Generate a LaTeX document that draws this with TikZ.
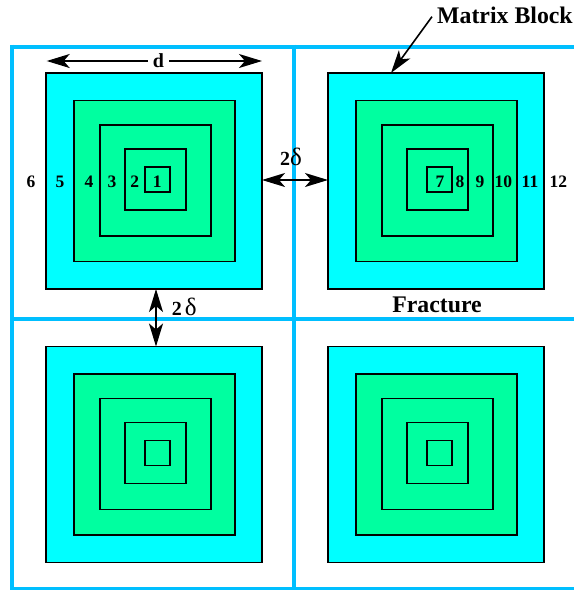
\documentclass[tikz,border=0pt]{standalone}
\usepackage{fontspec}
\setmainfont{Liberation Serif}
\usetikzlibrary{arrows.meta}
\definecolor{fracblue}{RGB}{0,191,255}
\definecolor{matcyan}{RGB}{0,255,255}
\definecolor{matgreen}{RGB}{0,255,160}
\newcommand\bigdelta{{\mdseries\fontsize{25}{25}\selectfont δ}}
\begin{document}
\begin{tikzpicture}[x=1pt,y=-1pt,
  frac/.style={draw=fracblue,line width=4pt},
  outerbox/.style={draw=black,line width=1.6pt,fill=matcyan,minimum size=216pt,inner sep=0pt,outer sep=0pt},
  ringbox/.style={draw=black,line width=1.8pt,fill=matgreen,inner sep=0pt,outer sep=0pt},
  dimarrow/.style={line width=1.6pt,{Stealth[length=23pt,width=14pt,inset=6pt]}-{Stealth[length=23pt,width=14pt,inset=6pt]}},
  ptrarrow/.style={line width=1.6pt,-{Stealth[length=23pt,width=14pt,inset=6pt]}},
  num/.style={font=\fontsize{17.5}{17.5}\selectfont\bfseries,inner sep=0pt,anchor=base},
  dlabel/.style={font=\fontsize{20}{20}\selectfont\bfseries,inner sep=0pt,anchor=base west},
  biglabel/.style={font=\fontsize{23.8}{23.8}\selectfont\bfseries,inner sep=0pt}]
\useasboundingbox (0,0) rectangle (574,590);
% fracture network
\draw[frac] (10,46.5) -- (574,46.5);
\draw[frac] (12,44.5) -- (12,590);
\draw[frac] (294,44.5) -- (294,590);
\draw[frac] (10,318.7) -- (574,318.7);
\draw[frac] (10,589) -- (574,589);
% matrix blocks
\foreach \n/\dx/\dy in {A/0/0,B/282/0,C/0/273.5,D/282/273.5}{
  \begin{scope}[shift={(\dx,\dy)}]
    \node[outerbox] (\n) at (154,181) {};
    \node[ringbox,minimum size=161pt] (\n2) at (154.5,181) {};
    \node[ringbox,minimum size=111pt] (\n3) at (155.5,180.5) {};
    \node[ringbox,minimum size=61pt] (\n4) at (155.5,179.5) {};
    \node[ringbox,minimum size=25pt] (\n5) at (157.5,179.5) {};
  \end{scope}
}
% dimension d
\coordinate (dl) at (46.7,61);
\coordinate (dr) at (262,61);
\draw[dimarrow] (dl) -- (dr);
\node[font=\fontsize{20}{20}\selectfont\bfseries,fill=white,inner xsep=5pt,inner ysep=1pt] (dlab) at (158.5,61) {d};
% 2 delta horizontal
\draw[dimarrow] ([yshift=1pt]A.east) -- ([yshift=1pt]B.west);
\node[dlabel] (dh) at (280,165.7) {2\bigdelta};
% 2 delta vertical
\draw[dimarrow] ([xshift=2pt]A.south) -- ([xshift=2pt]C.north);
\node[dlabel] (dv) at (171.7,315.7) {2\hspace{3pt}\bigdelta};
% shell numbers
\foreach \t/\x in {6/31,5/60,4/89,3/112,2/134.7,1/157.3,7/440,8/460,9/480,10/503.3,11/530,12/558.3}{
  \node[num] (n\t) at (\x,187) {\t};
}
% labels
\node[biglabel,anchor=base west] (mb) at (437,23.3) {Matrix Block};
\draw[ptrarrow] ([xshift=-5pt,yshift=-1.5pt]mb.west) -- ([xshift=-45pt]B.north);
\node[biglabel,anchor=base] (fr) at (437,312.3) {Fracture};
\end{tikzpicture}
\end{document}
